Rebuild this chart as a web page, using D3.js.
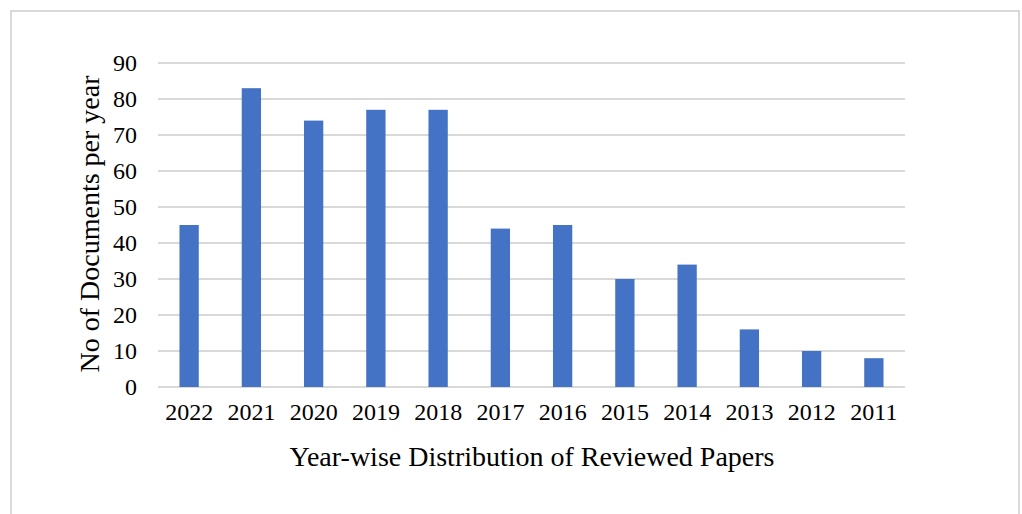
<!DOCTYPE html>
<html>
<head>
<meta charset="utf-8">
<script src="https://cdn.jsdelivr.net/npm/d3@7"></script>
<style>
  body { margin: 0; background: #fff; }
  text { font-family: "Liberation Serif", "Times New Roman", serif; fill: #000; }
</style>
</head>
<body>
<svg id="chart" width="1022" height="514"></svg>
<script>
// data
var years = ["2022", "2021", "2020", "2019", "2018", "2017", "2016", "2015", "2014", "2013", "2012", "2011"];
var docs = [45, 83, 74, 77, 77, 44, 45, 30, 34, 16, 10, 8];
var yTicks = [0, 10, 20, 30, 40, 50, 60, 70, 80, 90];

var dimensions = {
  width: 1022,
  height: 514,
  margin: { top: 63, right: 117, bottom: 127, left: 158 },
};
dimensions.boundedWidth = dimensions.width - dimensions.margin.left - dimensions.margin.right;
dimensions.boundedHeight = dimensions.height - dimensions.margin.top - dimensions.margin.bottom;

var svg = d3.select("#chart");

// outer frame
svg.append("rect")
  .attr("x", 11).attr("y", 11)
  .attr("width", 1008).attr("height", 520)
  .attr("fill", "none")
  .attr("stroke", "#d9d9d9")
  .attr("stroke-width", 2);

var dataset = years.map(function (y, i) { return { year: y, value: docs[i] }; });

var xScale = d3.scaleBand()
  .domain(years)
  .range([0, dimensions.boundedWidth])
  .paddingInner(0.69)
  .paddingOuter(0.345);

var yScale = d3.scaleLinear()
  .domain([0, 90])
  .range([dimensions.boundedHeight, 0]);

var bounds = svg.append("g")
  .attr("transform", "translate(" + dimensions.margin.left + "," + dimensions.margin.top + ")");

// gridlines
bounds.selectAll(".grid")
  .data(yTicks)
  .enter()
  .append("line")
  .attr("class", "grid")
  .attr("x1", 0)
  .attr("x2", dimensions.boundedWidth)
  .attr("y1", function (d) { return yScale(d); })
  .attr("y2", function (d) { return yScale(d); })
  .attr("stroke", "#d9d9d9")
  .attr("stroke-width", 2);

// bars
bounds.selectAll(".bar")
  .data(dataset)
  .enter()
  .append("rect")
  .attr("class", "bar")
  .attr("x", function (d) { return xScale(d.year); })
  .attr("width", xScale.bandwidth())
  .attr("y", function (d) { return yScale(d.value); })
  .attr("height", function (d) { return dimensions.boundedHeight - yScale(d.value); })
  .attr("fill", "#4472c4");

// y axis
var yAxis = d3.axisLeft(yScale).tickValues(yTicks).tickSize(0).tickPadding(21);
var yG = bounds.append("g").call(yAxis)
  .attr("font-family", "'Liberation Serif', serif")
  .attr("font-size", 24);
yG.select(".domain").remove();
yG.selectAll("text").attr("fill", "#000");

// x axis
var xAxis = d3.axisBottom(xScale).tickSize(0).tickPadding(16);
var xG = bounds.append("g")
  .attr("transform", "translate(0," + dimensions.boundedHeight + ")")
  .call(xAxis)
  .attr("font-family", "'Liberation Serif', serif")
  .attr("font-size", 24);
xG.select(".domain").remove();
xG.selectAll("text").attr("fill", "#000");

// axis titles
svg.append("text")
  .attr("x", 532)
  .attr("y", 466)
  .attr("text-anchor", "middle")
  .style("font-size", "28px")
  .text("Year-wise Distribution of Reviewed Papers");

svg.append("text")
  .attr("transform", "translate(99,224) rotate(-90)")
  .attr("text-anchor", "middle")
  .style("font-size", "28px")
  .text("No of Documents per year");
</script>
</body>
</html>
